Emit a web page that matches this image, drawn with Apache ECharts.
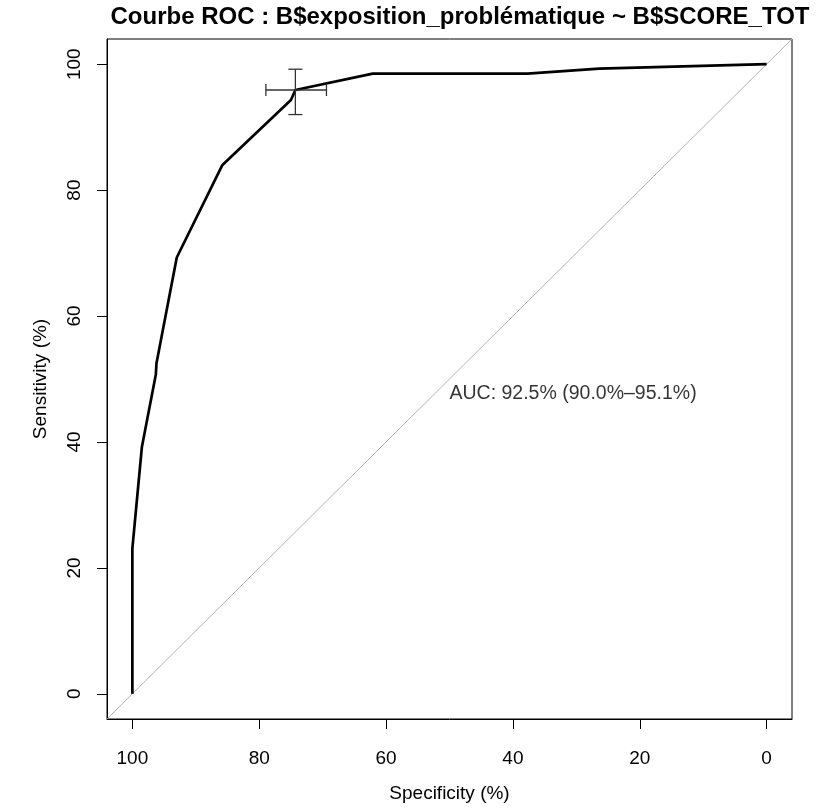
<!DOCTYPE html>
<html>
<head>
<meta charset="utf-8">
<script src="https://cdn.jsdelivr.net/npm/echarts@6/dist/echarts.min.js"></script>
<style>
html,body{margin:0;padding:0;background:#fff;}
#chart{width:826px;height:808px;}
</style>
</head>
<body>
<div id="chart"></div>
<script>
// ROC curve points (specificity %, sensitivity %)
const specificity = [100, 100, 98.5, 96.3, 96.2, 93.0, 85.8, 75.0, 74.3, 62.1, 37.7, 26.4, 0];
const sensitivity = [0, 23.1, 39.2, 50.7, 52.5, 69.3, 84.0, 94.3, 95.9, 98.5, 98.5, 99.3, 100];
// best threshold with confidence intervals
const thresholdPoint = [74.3, 95.9];
const specificityCI = [69.4, 78.95];
const sensitivityCI = [92.0, 99.2];
const tickValues = [0, 20, 40, 60, 80, 100];
const aucText = 'AUC: 92.5% (90.0%–95.1%)';
const aucPos = [50, 47.7];
const titleText = 'Courbe ROC : B$exposition_problématique ~ B$SCORE_TOT';

const FONT = 'Liberation Sans, Arial, Helvetica, sans-serif';
const chart = echarts.init(document.getElementById('chart'));
const rocData = specificity.map((s, i) => [s, sensitivity[i]]);

chart.setOption({
  animation: false,
  backgroundColor: '#fff',
  title: {
    text: titleText,
    left: 455, top: 0, textAlign: 'center',
    textStyle: {fontFamily: FONT, fontWeight: 'bold', fontSize: 24, color: '#000'}
  },
  grid: {left: 107, right: 34, top: 39, bottom: 85, show: true, borderColor: '#000', borderWidth: 1, backgroundColor: 'transparent'},
  xAxis: {
    type: 'value', inverse: true, min: -4, max: 104,
    name: 'Specificity (%)', nameLocation: 'middle', nameGap: 65,
    nameTextStyle: {fontFamily: FONT, fontSize: 19, color: '#000'},
    axisLine: {show: true, onZero: false, lineStyle: {color: '#000', width: 1}},
    axisTick: {show: true, length: 10, customValues: tickValues, lineStyle: {color: '#000'}},
    axisLabel: {customValues: tickValues, margin: 30, fontFamily: FONT, fontSize: 19, color: '#000'},
    splitLine: {show: false}
  },
  yAxis: {
    type: 'value', min: -4, max: 104,
    name: 'Sensitivity (%)', nameLocation: 'middle', nameGap: 57,
    nameTextStyle: {fontFamily: FONT, fontSize: 19, color: '#000'},
    axisLine: {show: true, onZero: false, lineStyle: {color: '#000', width: 1}},
    axisTick: {show: true, length: 10, customValues: tickValues, lineStyle: {color: '#000'}},
    axisLabel: {customValues: tickValues, rotate: 90, margin: 23, fontFamily: FONT, fontSize: 19, color: '#000', align: 'center', verticalAlign: 'bottom'},
    splitLine: {show: false}
  },
  series: [
    {
      type: 'line', data: [[104, -4], [-4, 104]], symbol: 'none', silent: true,
      lineStyle: {color: '#b3b3b3', width: 1}, z: 1
    },
    {
      type: 'line', data: rocData, symbol: 'none', silent: true,
      lineStyle: {color: '#000', width: 2.7}, z: 3
    },
    {
      type: 'custom', z: 4, silent: true,
      data: [[thresholdPoint[0], thresholdPoint[1], specificityCI[0], specificityCI[1], sensitivityCI[0], sensitivityCI[1]]],
      encode: {x: 0, y: 1},
      renderItem: function (params, api) {
        const x = api.value(0), y = api.value(1);
        const pL = api.coord([api.value(2), y]);
        const pR = api.coord([api.value(3), y]);
        const pB = api.coord([x, api.value(4)]);
        const pT = api.coord([x, api.value(5)]);
        const st = {stroke: '#333', lineWidth: 1.3};
        const hc = 6, vc = 7;
        const seg = (x1, y1, x2, y2) => ({type: 'line', shape: {x1, y1, x2, y2}, style: st});
        return {type: 'group', children: [
          seg(pL[0], pL[1], pR[0], pR[1]),
          seg(pL[0], pL[1] - hc, pL[0], pL[1] + hc),
          seg(pR[0], pR[1] - hc, pR[0], pR[1] + hc),
          seg(pB[0], pB[1], pT[0], pT[1]),
          seg(pB[0] - vc, pB[1], pB[0] + vc, pB[1]),
          seg(pT[0] - vc, pT[1], pT[0] + vc, pT[1])
        ]};
      }
    },
    {
      type: 'scatter', data: [aucPos], symbolSize: 0, silent: true, z: 5,
      label: {show: true, position: 'right', distance: 0, formatter: aucText,
        fontFamily: FONT, fontSize: 19.5, color: '#000'}
    }
  ]
});
</script>
</body>
</html>
